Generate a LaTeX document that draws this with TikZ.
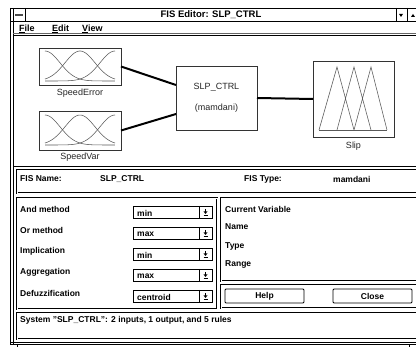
\documentclass[tikz,border=0pt]{standalone}
\usepackage{fontspec}
\setmainfont{Liberation Sans}
\usetikzlibrary{positioning}

\tikzset{
	mfbox/.style={rectangle, draw=black!80, line width=0.8pt, inner sep=0pt, outer sep=0pt, fill=white},
	mflabel/.style={font=\fontsize{9}{10}\selectfont, text=black!85, inner sep=0pt},
	conn/.style={line width=2pt, black},
	mfline/.style={black!65, line width=0.55pt},
	panel/.style={draw=black, line width=0.45pt, double, double distance=0.9pt},
	uitext/.style={font=\fontsize{8.5}{10}\selectfont\bfseries, anchor=west, inner sep=0pt},
	btn/.style={rectangle, draw=black, line width=0.8pt, rounded corners=1pt, minimum width=79pt, minimum height=14pt, inner sep=0pt, font=\fontsize{8.5}{10}\selectfont\bfseries}
}
\newcommand{\gaussset}[1]{
	\foreach \c in {45,80,115}
		\draw[mfline] plot[domain=45:115, samples=50, smooth] (\x, {#1+33-30*exp(-((\x-\c)^2)/450)});
}

\begin{document}
\begin{tikzpicture}[x=1pt, y=-1pt]
	\useasboundingbox[fill=white] (0,0) rectangle (416,347);

	% window frame, title bar and menu
	\draw[line width=0.6pt] (10,8) -- (10,344) (13,8) -- (13,344);
	\draw[line width=0.6pt] (10,8) -- (420,8) (10,21) -- (420,21);
	\draw[line width=0.6pt] (25,8) -- (25,21) (396,8) -- (396,21) (407,8) -- (407,21);
	\fill[black!70] (15,14) rectangle (23,16);
	\fill (399,14) -- (403,14) -- (401,17) -- cycle;
	\fill (411,17) -- (415,17) -- (413,14) -- cycle;
	\node[font=\fontsize{9.5}{12}\selectfont\bfseries, inner sep=0pt] (title) at (211,15) {FIS Editor: SLP\_CTRL};
	\node[uitext, font=\fontsize{9}{10}\selectfont\bfseries] (mfile) at (19,29) {\underline{F}ile};
	\node[uitext, font=\fontsize{9}{10}\selectfont\bfseries] (medit) at (52,29) {\underline{E}dit};
	\node[uitext, font=\fontsize{9}{10}\selectfont\bfseries] (mview) at (82,29) {\underline{V}iew};
	\draw[black!60, line width=0.6pt] (13,33) -- (420,33);
	\draw[line width=0.6pt] (13,35) -- (420,35);

	% fis diagram
	\node[mfbox, minimum width=82pt, minimum height=37pt] (in1) at (80,66.5) {};
	\node[mfbox, minimum width=82pt, minimum height=39pt] (in2) at (80,130.5) {};
	\node[mfbox, minimum width=81pt, minimum height=64pt, align=center, font=\fontsize{9}{21}\selectfont, text=black!85] (sys) at (216.5,98) {SLP\_CTRL\\(mamdani)};
	\node[mfbox, minimum width=81pt, minimum height=76pt] (out1) at (353.5,99) {};
	\node[mflabel, below=4pt of in1] (in1lab) {SpeedError};
	\node[mflabel, below=3pt of in2] (in2lab) {SpeedVar};
	\node[mflabel, below=5pt of out1] (out1lab) {Slip};
	\gaussset{48}
	\gaussset{112}
	\draw[mfline] (319,130) -- (337,67) -- (354,130) (337,130) -- (354,67) -- (371,130) (354,130) -- (371,67) -- (387,130);
	\draw[mfline] (319,130) -- (387,130);
	\draw[conn] (in1.east) -- ([yshift=13pt]sys.west);
	\draw[conn] (in2.east) -- ([yshift=-16pt]sys.west);
	\draw[conn] (sys.east) -- (out1.west);

	% lower panels
	\draw[line width=0.6pt] (13,166) -- (420,166);
	\draw[panel] (17,170) rectangle (422,193);
	\node[uitext] (fisname) at (20,179) {FIS Name:};
	\node[uitext] (fisnameval) at (100,179) {SLP\_CTRL};
	\node[uitext] (fistype) at (244,179) {FIS Type:};
	\node[uitext] (fistypeval) at (333,179) {mamdani};

	\draw[panel] (17,198) rectangle (217,309);
	\foreach \lab/\val [count=\i] in {And method/min, Or method/max, Implication/min, Aggregation/max, Defuzzification/centroid} {
		\pgfmathsetmacro\yy{188+21*\i}
		\node[uitext] (meth\i) at (20,\yy) {\lab};
		\draw[line width=0.7pt] (133,\yy-3) rectangle (212,\yy+9) (199,\yy-3) -- (199,\yy+9);
		\node[uitext] (methval\i) at (137,\yy+4) {\val};
		\draw[line width=0.7pt] (205.5,\yy) -- (205.5,\yy+3) (203.5,\yy+6) -- (207.5,\yy+6);
		\fill (203.5,\yy+2.5) -- (207.5,\yy+2.5) -- (205.5,\yy+5) -- cycle;
	}

	\draw[panel] (221,198) rectangle (422,281);
	\node[uitext] (curvar) at (225,209) {Current Variable};
	\node[uitext] (varname) at (225,227) {Name};
	\node[uitext] (vartype) at (225,246) {Type};
	\node[uitext] (varrange) at (225,264) {Range};

	\draw[panel] (221,285) rectangle (422,308);
	\node[btn] (help) at (264.5,296) {Help};
	\node[btn] (close) at (372.5,296) {Close};

	\draw[panel] (17,313) rectangle (422,339);
	\node[uitext] (status) at (20,320) {System "SLP\_CTRL": 2 inputs, 1 output, and 5 rules};

	\draw[line width=0.6pt] (10,342) -- (420,342) (10,344) -- (420,344);
	\draw[line width=0.6pt] (17,344) -- (17,347) (409,344) -- (409,347);
\end{tikzpicture}
\end{document}
